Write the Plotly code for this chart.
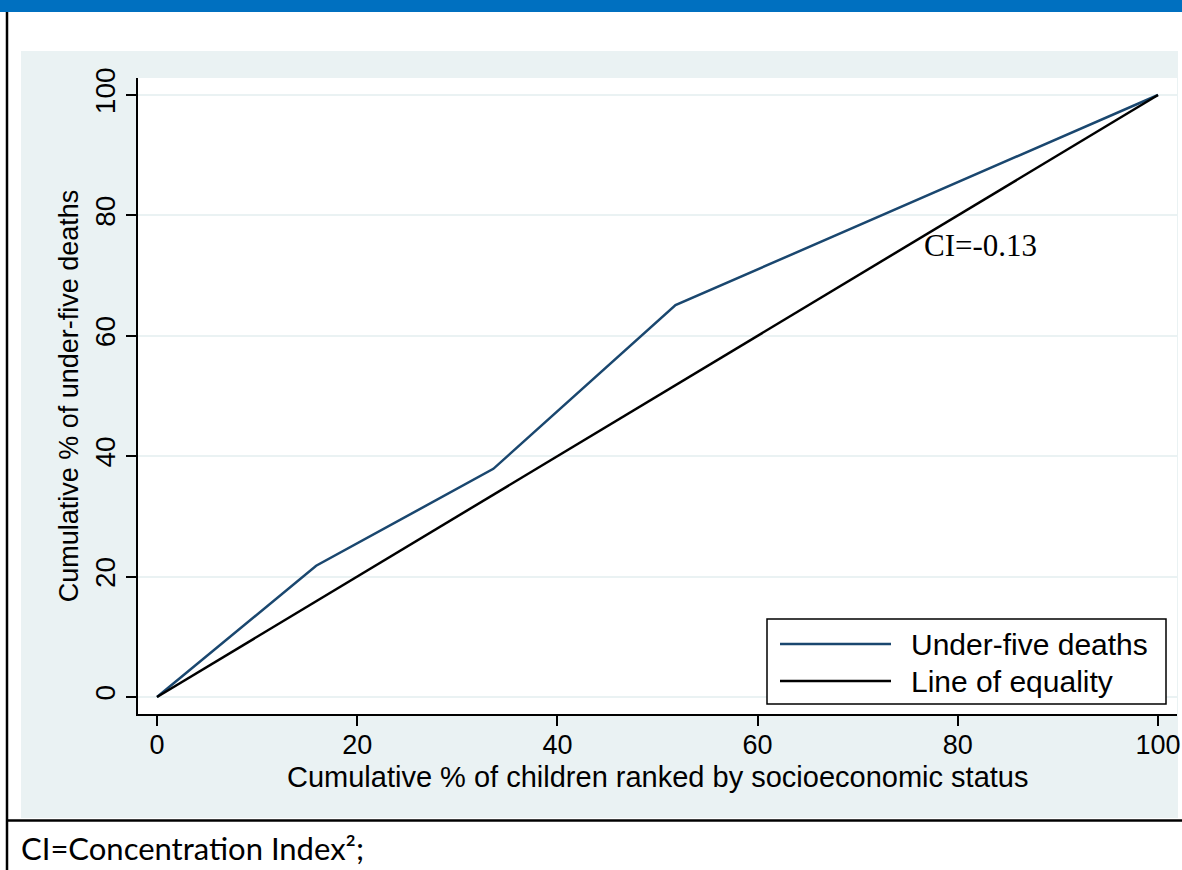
import plotly.graph_objects as go

# Concentration curve data: cumulative % of children (ranked poorest -> richest)
# against cumulative % of under-five deaths
cum_children = [0, 15.9, 33.6, 51.8, 100]
cum_deaths = [0, 21.8, 37.9, 65.1, 100]
equality_x = [0, 100]
equality_y = [0, 100]

tick_vals = [0, 20, 40, 60, 80, 100]
series_names = ["Under-five deaths", "Line of equality"]
x_title = "Cumulative % of children ranked by socioeconomic status"
y_title = "Cumulative % of under-five deaths"
ci_label = "CI=-0.13"
ci_pos = (82.3, 75.0)
footnote = "CI=Concentration Index²;"

NAVY = "#1a476f"
PANEL = "#eaf2f3"
BAR_BLUE = "#0070c0"

W, H = 1182, 870
L, R, T, B = 138, 1177, 78, 714


def px(x):
    return (x - L) / (R - L)


def py(y):
    return (B - y) / (B - T)


fig = go.Figure()
fig.add_trace(go.Scatter(x=cum_children, y=cum_deaths, mode="lines",
                         name=series_names[0],
                         line=dict(color=NAVY, width=2.5)))
fig.add_trace(go.Scatter(x=equality_x, y=equality_y, mode="lines",
                         name=series_names[1],
                         line=dict(color="black", width=2.5)))

shapes = [
    # outer panel and white plot region
    dict(type="rect", xref="paper", yref="paper", x0=px(21), x1=px(1178),
         y0=py(818), y1=py(51), fillcolor=PANEL, line=dict(width=0), layer="below"),
    dict(type="rect", xref="paper", yref="paper", x0=0, x1=1, y0=0, y1=1,
         fillcolor="white", line=dict(width=0), layer="below"),
    # top banner
    dict(type="rect", xref="paper", yref="paper", x0=px(0), x1=px(W),
         y0=py(12), y1=py(0), fillcolor=BAR_BLUE, line=dict(width=0)),
    # frame lines
    dict(type="line", xref="paper", yref="paper", x0=px(7), x1=px(7),
         y0=py(12), y1=py(H), line=dict(color="black", width=2.5)),
    dict(type="line", xref="paper", yref="paper", x0=px(6), x1=px(W),
         y0=py(820.5), y1=py(820.5), line=dict(color="black", width=2.5)),
    # legend box
    dict(type="rect", xref="paper", yref="paper", x0=px(767), x1=px(1166),
         y0=py(704), y1=py(619), fillcolor="white",
         line=dict(color="black", width=1.5)),
    dict(type="line", xref="paper", yref="paper", x0=px(780), x1=px(891),
         y0=py(644), y1=py(644), line=dict(color=NAVY, width=2.5)),
    dict(type="line", xref="paper", yref="paper", x0=px(780), x1=px(891),
         y0=py(681), y1=py(681), line=dict(color="black", width=2.5)),
]

SANS = "Liberation Sans, Arial, sans-serif"
h_font = dict(family=SANS, size=30, color="black")
title_font = dict(family=SANS, size=29, color="black")
tick_font = dict(family=SANS, size=28, color="black")
v_font = dict(family=SANS, size=27, color="black")

annotations = [
    dict(xref="paper", yref="paper", x=px(909), y=py(644), text=series_names[0],
         showarrow=False, xanchor="left", yanchor="middle", font=h_font),
    dict(xref="paper", yref="paper", x=px(909), y=py(681), text=series_names[1],
         showarrow=False, xanchor="left", yanchor="middle", font=h_font),
    dict(xref="paper", yref="paper", x=px(657.5), y=py(777), text=x_title,
         showarrow=False, xanchor="center", yanchor="middle", font=title_font),
    dict(xref="x", yref="y", x=ci_pos[0], y=ci_pos[1], text=ci_label,
         showarrow=False, xanchor="center", yanchor="middle",
         font=dict(family="Liberation Serif, serif", size=31, color="black")),
    dict(xref="paper", yref="paper", x=px(19), y=py(848), text=footnote,
         showarrow=False, xanchor="left", yanchor="middle",
         font=dict(family="Lato, sans-serif", size=31, color="black")),
]

fig.update_layout(
    width=W, height=H,
    margin=dict(l=L, r=W - R, t=T, b=H - B, pad=0),
    paper_bgcolor="white",
    plot_bgcolor="white",
    showlegend=False,
    shapes=shapes,
    annotations=annotations,
    font=h_font,
)

fig.update_xaxes(
    range=[(L - 157) / 10.01, (R - 157) / 10.01],
    tickmode="array", tickvals=tick_vals,
    showgrid=False, zeroline=False,
    showline=True, linecolor="black", linewidth=1.5, mirror=False,
    ticks="outside", ticklen=10, tickwidth=1.5, tickcolor="black",
    tickfont=dict(family=SANS, size=27, color="black"),
    ticklabeloverflow="allow", ticklabelstandoff=-4,
    automargin=False,
)
fig.update_yaxes(
    range=[(697 - B) / 6.02, (697 - T) / 6.02],
    tickmode="array", tickvals=tick_vals,
    showgrid=True, gridcolor=PANEL, gridwidth=2,
    zeroline=False,
    showline=True, linecolor="black", linewidth=1.5, mirror=False,
    ticks="outside", ticklen=10, tickwidth=1.5, tickcolor="black",
    tickfont=tick_font, tickangle=-90,
    title=dict(text=y_title, font=v_font, standoff=4),
    automargin=False,
)

fig.write_html("out.html")
